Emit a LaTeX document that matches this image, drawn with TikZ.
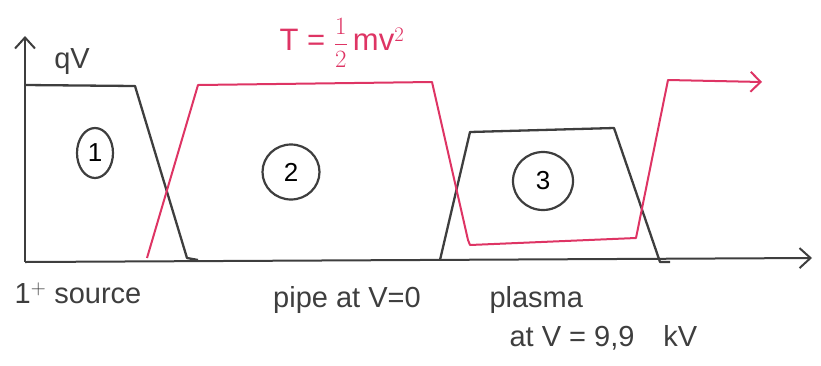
\documentclass[tikz,border=0pt]{standalone}
\usepackage{fontspec}
\setmainfont{Liberation Sans}
\usetikzlibrary{arrows.meta,shapes.geometric}
\definecolor{pencil}{RGB}{62,62,62}
\definecolor{redink}{RGB}{222,52,100}

\begin{document}
\begin{tikzpicture}[
  x=1pt, y=-1pt,
  axis/.style={pencil, line width=2pt, -{Straight Barb[length=11pt,width=20pt]}},
  potential/.style={pencil, line width=2.3pt, line join=round},
  energy/.style={redink, line width=2pt, line join=round},
  region/.style={draw=pencil, line width=2.2pt, ellipse, inner sep=0pt, font=\fontsize{26}{28}\selectfont},
  label/.style={pencil, font=\fontsize{29}{34}\selectfont, align=left}
]
\useasboundingbox (0,0) rectangle (821,365);
% axes
\coordinate (origin) at (25,262);
\coordinate (yend) at (25,36);
\coordinate (xend) at (812,258);
\draw[axis] (origin) -- (yend);
\draw[axis] (origin) -- (xend);
% potential qV (black)
\draw[potential] (25,85) -- (135,86) -- (187,258) -- (198,260);
\draw[potential] (440,260) -- (470,132) -- (614,128) -- (660,262) -- (670,262);
% kinetic energy (red)
\draw[energy, -{Straight Barb[length=10pt,width=20pt]}]
  (147,258) -- (198,85) -- (432,82) -- (468,240) -- (470,245) -- (636,238)
  -- (668,80) -- (762,82);
% region numbers
\node[region, minimum width=36pt, minimum height=50pt] (one) at (95,153) {1};
\node[region, minimum width=57pt, minimum height=55pt] (two) at (291,172) {2};
\node[region, minimum width=60pt, minimum height=58pt] (three) at (543,181) {3};
% labels
\node[label] (qv) at (72,62) {qV};
\node[label, text=redink, font=\fontsize{31}{34}\selectfont] (kin) at (342,43) {T = $\displaystyle\frac{1}{2}$\,mv$^2$};
\node[label] (source) at (78,293) {1$^+$ source};
\node[label] (pipe) at (347,300) {pipe at V=0};
\node[label, anchor=west] (plasma) at (486,300) {plasma};
\node[label, anchor=west] (volt) at (506,338) {at V = 9,9\quad kV};
\end{tikzpicture}
\end{document}
